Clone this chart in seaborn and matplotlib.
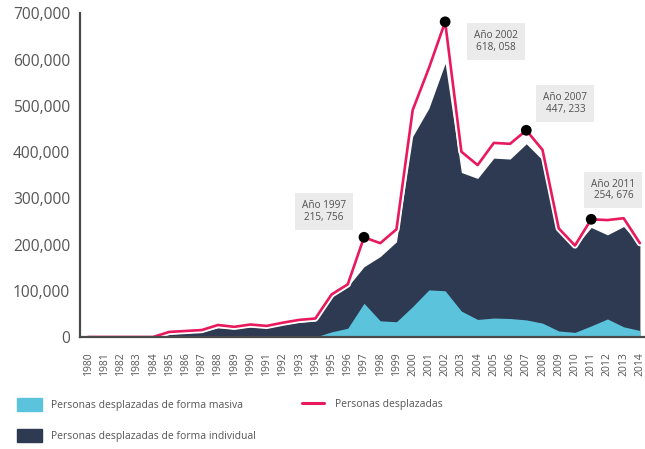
import numpy as np
import pandas as pd
import matplotlib
matplotlib.use("Agg")
import matplotlib.pyplot as plt
import matplotlib.patheffects as pe
from matplotlib.patches import Patch
from matplotlib.lines import Line2D
from matplotlib.ticker import FuncFormatter, MultipleLocator
import seaborn as sns

# Datos (personas desplazadas por año)
anios = list(range(1980, 2015))
total = [0, 0, 0, 0, 0, 11000, 13000, 15000, 26000, 22000,
         27000, 24000, 31000, 37000, 40000, 92000, 114000, 215756, 203000, 233000,
         491000, 582000, 682000, 401000, 372000, 420000, 418000, 447233, 405000, 235000,
         198000, 254676, 253000, 257000, 203000]
individual = [0, 0, 0, 0, 0, 6000, 9000, 11000, 20000, 18000,
              22000, 20000, 27000, 32000, 35000, 87000, 109000, 152000, 174000, 206000,
              434000, 495000, 592000, 356000, 343000, 387000, 385000, 418000, 383000, 232000,
              195000, 237000, 221000, 239000, 199000]
masiva = [0, 0, 0, 0, 0, 0, 0, 0, 0, 0,
          0, 0, 0, 0, 0, 11000, 19000, 73000, 35000, 33000,
          66000, 102000, 100000, 56000, 38000, 41000, 40000, 37000, 30000, 13000,
          10000, 24000, 39000, 22000, 14000]

# Años destacados con su etiqueta
anios_destacados = [1997, 2002, 2007, 2011]
etiquetas = ["Año 1997\n215, 756", "Año 2002\n618, 058", "Año 2007\n447, 233", "Año 2011\n254, 676"]

df = pd.DataFrame({"anio": anios, "total": total, "individual": individual, "masiva": masiva})

COLOR_IND = "#2d3a52"
COLOR_MAS = "#5bc3dc"
COLOR_TOT = "#e8195c"
GRIS = "#555555"

sns.set_style("white")
plt.rcParams["font.family"] = ["Open Sans", "DejaVu Sans"]

fig = plt.figure(figsize=(6.45, 4.49), dpi=100)
ax = fig.add_axes([80 / 645, 112 / 449, 568 / 645, 0.7205])

# Áreas
ax.fill_between(df["anio"], 0, df["individual"], color=COLOR_IND, linewidth=0)
ax.fill_between(df["anio"], 0, df["masiva"], color=COLOR_MAS, linewidth=0)

# Línea total con borde blanco
sns.lineplot(data=df, x="anio", y="total", ax=ax, color=COLOR_TOT, linewidth=1.9,
             path_effects=[pe.Stroke(linewidth=4.5, foreground="white"), pe.Normal()])

# Puntos destacados
dest = df[df["anio"].isin(anios_destacados)]
sns.scatterplot(data=dest, x="anio", y="total", ax=ax, color="black", s=60,
                edgecolor="none", zorder=5, clip_on=False)

# Cuadros de texto
pos_cuadros = [(1994.53, 271000), (2005.13, 640000), (2009.41, 505000), (2012.37, 318000)]
for (x, y), txt in zip(pos_cuadros, etiquetas):
    ax.text(x, y, txt, ha="center", va="center", fontsize=7.2, color="#505050",
            linespacing=1.1,
            bbox=dict(boxstyle="square,pad=0.7", fc="#ebebeb", ec="none"))

# Ejes
ax.set_xlim(1979.5, 2014.5)
ax.set_ylim(0, 700000)
ax.set_xlabel("")
ax.set_ylabel("")
sns.despine(ax=ax)
for s in ["left", "bottom"]:
    ax.spines[s].set_color("#4a4a4a")
    ax.spines[s].set_linewidth(1.6)

ax.yaxis.set_major_locator(MultipleLocator(100000))
ax.yaxis.set_major_formatter(FuncFormatter(lambda v, p: f"{int(v):,}"))
ax.tick_params(axis="y", direction="in", length=9.5, width=1.6, color="#4a4a4a",
               labelsize=11.2, labelcolor=GRIS, pad=7)

ax.set_xticks(anios)
ax.set_xticklabels([str(a) for a in anios], rotation=90)
ax.set_xticks(np.arange(1979.5, 2015, 1), minor=True)
ax.tick_params(axis="x", which="major", length=0, labelsize=7.5, labelcolor=GRIS, pad=11)
ax.tick_params(axis="x", which="minor", direction="out", length=6, width=1.5, color="#4a4a4a")

# Leyendas
h1 = [Patch(color=COLOR_MAS, label="Personas desplazadas de forma masiva"),
      Patch(color=COLOR_IND, label="Personas desplazadas de forma individual")]
fig.legend(handles=h1, loc="upper left", bbox_to_anchor=(16.7 / 645, (449 - 398) / 449),
           frameon=False, fontsize=7.5, handlelength=2.4, handleheight=1.54,
           handletextpad=0.87, labelspacing=1.7, borderpad=0, borderaxespad=0,
           labelcolor=GRIS)
h2 = [Line2D([0], [0], color=COLOR_TOT, linewidth=2.2, label="Personas desplazadas")]
fig.legend(handles=h2, loc="center left", bbox_to_anchor=(301.7 / 645, (449 - 404) / 449),
           frameon=False, fontsize=7.5, handlelength=2.15, handletextpad=1.0,
           borderpad=0, borderaxespad=0, labelcolor=GRIS)

fig.savefig("out.png", dpi=100)
plt.close(fig)
